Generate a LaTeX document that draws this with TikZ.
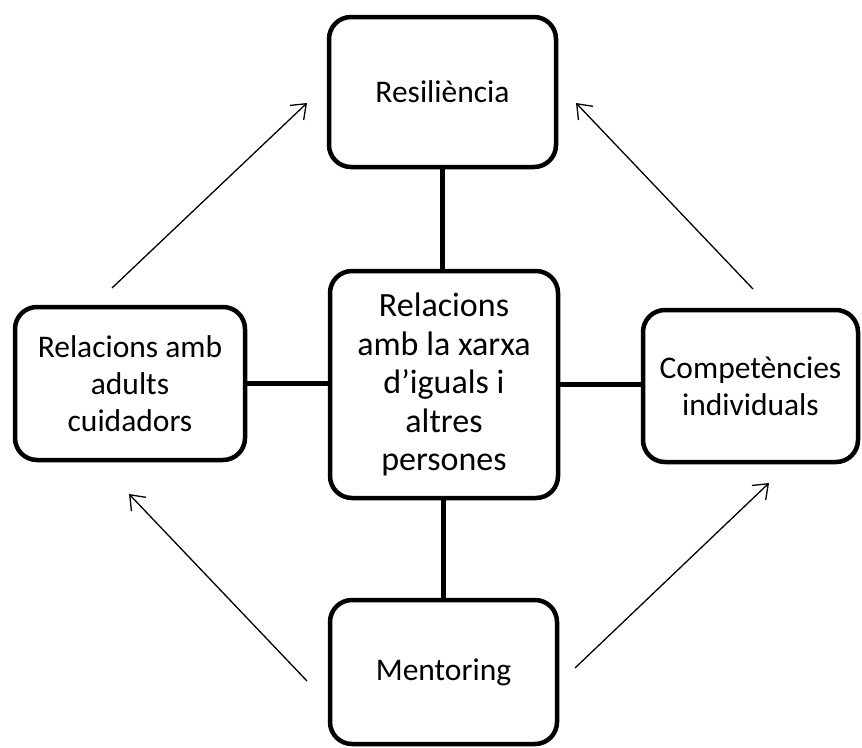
\documentclass[tikz,border=0pt]{standalone}
\usepackage{fontspec}
\setmainfont{Carlito}
\usetikzlibrary{arrows.meta}

\begin{document}
\begin{tikzpicture}[x=1pt,y=-1pt,
  box/.style={draw=black, line width=4.5pt, rounded corners=22pt, fill=white,
    align=center, inner sep=2pt, font=\fontsize{31.5}{37}\selectfont},
  link/.style={line width=4.5pt},
  flow/.style={line width=1.3pt, -{Straight Barb[length=13pt,width=20pt,line width=1.3pt]}}
]
\useasboundingbox (0,0) rectangle (862,747);

% central theme and the four surrounding factors
\node[box, minimum width=228pt, minimum height=227pt,
  font=\fontsize{34}{38.5}\selectfont] (mid) at (444,384.5)
  {Relacions\\amb la xarxa\\d’iguals i\\altres\\persones};
\node[box, minimum width=227pt, minimum height=150pt] (top) at (442.5,92) {Resiliència};
\node[box, minimum width=230pt, minimum height=153pt] (left) at (130,383.5)
  {Relacions amb\\adults\\cuidadors};
\node[box, minimum width=215pt, minimum height=152pt] (right) at (750.5,386)
  {Competències\\individuals};
\node[box, minimum width=227pt, minimum height=144pt] (bottom) at (443.5,672) {Mentoring};

% links to the centre
\draw[link] (top.south) -- (top.south |- mid.north);
\draw[link] (bottom.north) -- (bottom.north |- mid.south);
\draw[link] (left.east) -- (left.east -| mid.west);
\draw[link] (mid.east) -- (mid.east -| right.west);

% diagonal influence arrows
\coordinate (a1s) at (112,288);  \coordinate (a1e) at (307,103);
\coordinate (a2s) at (753,289);  \coordinate (a2e) at (576,103);
\coordinate (a3s) at (307,681);  \coordinate (a3e) at (129,494);
\coordinate (a4s) at (575,668);  \coordinate (a4e) at (769,483);
\draw[flow] (a1s) -- (a1e);
\draw[flow] (a2s) -- (a2e);
\draw[flow] (a3s) -- (a3e);
\draw[flow] (a4s) -- (a4e);
\end{tikzpicture}
\end{document}
